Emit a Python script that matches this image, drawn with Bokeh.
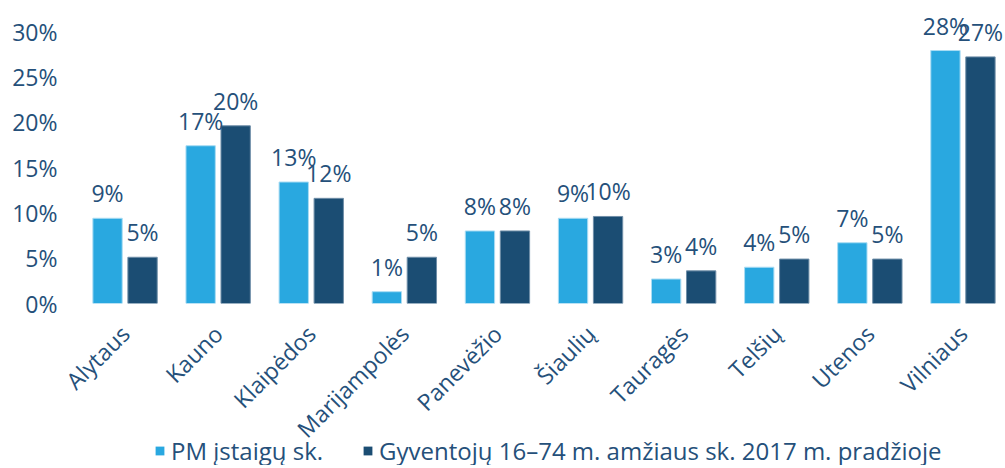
import math
import numpy as np
from bokeh.plotting import figure
from bokeh.layouts import column
from bokeh.models import Range1d, FixedTicker, Legend, LegendItem, ColumnDataSource
from bokeh.embed import file_html
from bokeh.resources import INLINE

# ---- data ----
regions = ["Alytaus", "Kauno", "Klaipėdos", "Marijampolės", "Panevėžio",
           "Šiaulių", "Tauragės", "Telšių", "Utenos", "Vilniaus"]
pm_values = [9.4, 17.4, 13.4, 1.3, 8.0, 9.4, 2.7, 4.0, 6.7, 27.9]
pop_values = [5.1, 19.6, 11.6, 5.1, 8.0, 9.6, 3.6, 4.9, 4.9, 27.2]
pm_labels = ["9%", "17%", "13%", "1%", "8%", "9%", "3%", "4%", "7%", "28%"]
pop_labels = ["5%", "20%", "12%", "5%", "8%", "10%", "4%", "5%", "5%", "27%"]
y_ticks = [0, 5, 10, 15, 20, 25, 30]
y_tick_labels = ["0%", "5%", "10%", "15%", "20%", "25%", "30%"]
series_names = ["PM įstaigų sk.", "Gyventojų 16–74 m. amžiaus sk. 2017 m. pradžioje"]

# ---- style ----
LIGHT = "#29A8E0"
DARK = "#1B4D73"
TEXT = "#25507A"
FONT = "Open Sans"
FS = "23px"

centers = np.arange(len(regions)) + 0.5
offset = 0.188
bar_w = 0.315

p = figure(frame_width=927, frame_height=303, output_backend="svg", toolbar_location=None,
           x_range=Range1d(0, 9.957), y_range=Range1d(0, 33.42),
           min_border_left=78, min_border_right=0, min_border_top=0,
           min_border_bottom=0)
p.outline_line_color = None
p.grid.grid_line_color = None
p.background_fill_color = "white"
p.border_fill_color = "white"

src_pm = ColumnDataSource(dict(x=centers - offset, top=pm_values, lab=pm_labels))
src_pop = ColumnDataSource(dict(x=centers + offset, top=pop_values, lab=pop_labels))

r1 = p.vbar(x="x", top="top", width=bar_w, bottom=0, source=src_pm,
            fill_color=LIGHT, line_color="#a9dcf3", line_width=1)
r2 = p.vbar(x="x", top="top", width=bar_w, bottom=0, source=src_pop,
            fill_color=DARK, line_color="#6f8ea8", line_width=1)

for src in (src_pm, src_pop):
    p.text(x="x", y="top", text="lab", source=src, text_align="center",
           text_baseline="bottom", y_offset=-9, text_color=TEXT,
           text_font={"value": FONT}, text_font_size=FS)

# y axis
ya = p.yaxis[0]
ya.ticker = FixedTicker(ticks=y_ticks)
ya.major_label_overrides = {t: l for t, l in zip(y_ticks, y_tick_labels)}
ya.axis_line_color = None
ya.major_tick_line_color = None
ya.minor_tick_line_color = None
ya.major_tick_out = 0
ya.major_tick_in = 0
ya.major_label_standoff = 21
ya.major_label_text_font = FONT
ya.major_label_text_font_size = FS
ya.major_label_text_color = TEXT

# x axis
xa = p.xaxis[0]
xa.ticker = FixedTicker(ticks=list(centers))
xa.major_label_overrides = {float(c): r for c, r in zip(centers, regions)}
xa.major_label_orientation = math.pi / 4
xa.axis_line_color = None
xa.major_tick_line_color = None
xa.minor_tick_line_color = None
xa.major_tick_out = 0
xa.major_tick_in = 0
xa.major_label_standoff = 26
xa.major_label_text_font = FONT
xa.major_label_text_font_size = FS
xa.major_label_text_color = TEXT

# legend in its own strip below the chart (pulled up slightly under the rotated labels)
lf = figure(width=1005, height=26, output_backend="svg", toolbar_location=None,
            x_range=Range1d(0, 1), y_range=Range1d(0, 1),
            min_border_left=0, min_border_right=0, min_border_top=0, min_border_bottom=0,
            styles={"margin-top": "-19px"})
lf.axis.visible = False
lf.grid.grid_line_color = None
lf.outline_line_color = None
lf.background_fill_alpha = 0
lf.border_fill_alpha = 0
# legend swatches only: the source point lies outside the strip's range
dummy = ColumnDataSource(dict(x=[5], top=[5]))
d1 = lf.vbar(x="x", top="top", width=0.1, source=dummy, fill_color=LIGHT, line_color=None)
d2 = lf.vbar(x="x", top="top", width=0.1, source=dummy, fill_color=DARK, line_color=None)

legend = Legend(items=[LegendItem(label=series_names[0], renderers=[d1]),
                       LegendItem(label=series_names[1], renderers=[d2])],
                orientation="horizontal", location=(76, -2),
                glyph_width=11, glyph_height=11, label_standoff=6, spacing=39,
                padding=0, margin=0, border_line_color=None,
                background_fill_alpha=0,
                label_text_font=FONT, label_text_font_size="24px",
                label_text_color=TEXT)
lf.add_layout(legend, "center")

layout = column(p, lf, spacing=0)
open("out.html", "w").write(file_html(layout, INLINE))
